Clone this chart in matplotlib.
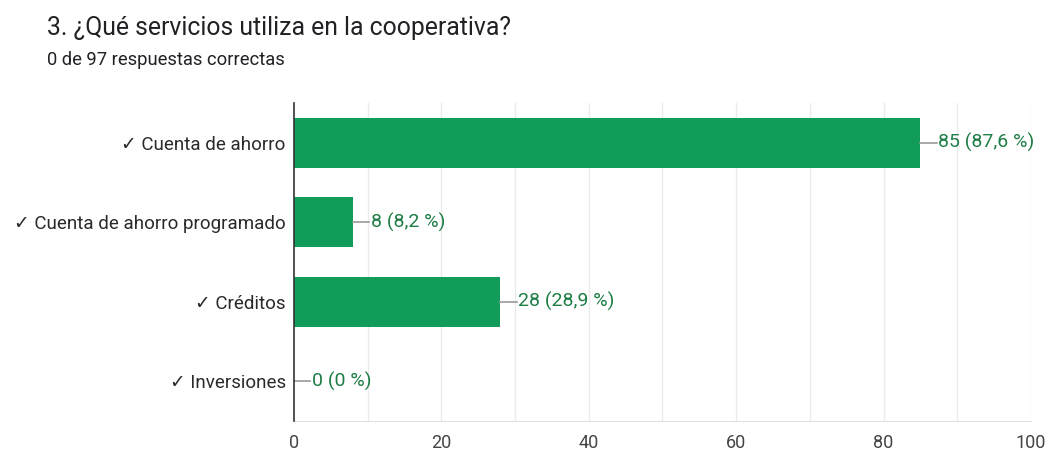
import matplotlib
matplotlib.use("Agg")
import matplotlib.pyplot as plt

plt.rcParams['font.family'] = ['Roboto', 'DejaVu Sans']

categories = ["✓ Cuenta de ahorro", "✓ Cuenta de ahorro programado", "✓ Créditos", "✓ Inversiones"]
counts = [85, 8, 28, 0]
percents = ["87,6", "8,2", "28,9", "0"]
title = "3. ¿Qué servicios utiliza en la cooperativa?"
subtitle = "0 de 97 respuestas correctas"
xticks = [0, 20, 40, 60, 80, 100]

bar_color = "#129c5a"
label_color = "#1e7d46"
text_color = "#2a2a2a"

fig = plt.figure(figsize=(10.48, 4.5), dpi=100)
ax = fig.add_axes([0.2805, 0.0644, 0.9838 - 0.2805, 0.771 - 0.0644])

y = list(range(len(categories)))
ax.barh(y, counts, height=0.63, color=bar_color, zorder=3)
ax.set_ylim(len(categories) - 0.5, -0.5)
ax.set_xlim(0, 100)

# gridlines every 10
for gx in range(10, 101, 10):
    ax.axvline(gx, color="#ebebeb", lw=1, zorder=1)

ax.set_xticks(xticks)
ax.set_xticklabels([str(t) for t in xticks], fontsize=13, color="#444444")
ax.set_yticks(y)
ax.set_yticklabels(categories, fontsize=13.5, color=text_color)
ax.tick_params(axis="both", length=0)
ax.tick_params(axis="x", pad=9)
ax.tick_params(axis="y", pad=6)

for s in ["top", "right"]:
    ax.spines[s].set_visible(False)
ax.spines["left"].set_color("#333333")
ax.spines["left"].set_linewidth(1.2)
ax.spines["left"].set_zorder(4)
ax.spines["bottom"].set_color("#e0e0e0")

# value labels with connector line
for yi, c, p in zip(y, counts, percents):
    ax.plot([c, c + 2.2], [yi, yi], color="#999999", lw=1.2, zorder=4, clip_on=False)
    ax.text(c + 2.4, yi, f"{c} ({p} %)", va="center", ha="left",
            fontsize=14, color=label_color, zorder=5)

fig.text(47 / 1048, 1 - 28 / 450, title, fontsize=17.8, color="#202124", va="center", ha="left")
fig.text(47 / 1048, 1 - 60 / 450, subtitle, fontsize=13.2, color="#202124", va="center", ha="left")

fig.savefig("out.png", dpi=100)
